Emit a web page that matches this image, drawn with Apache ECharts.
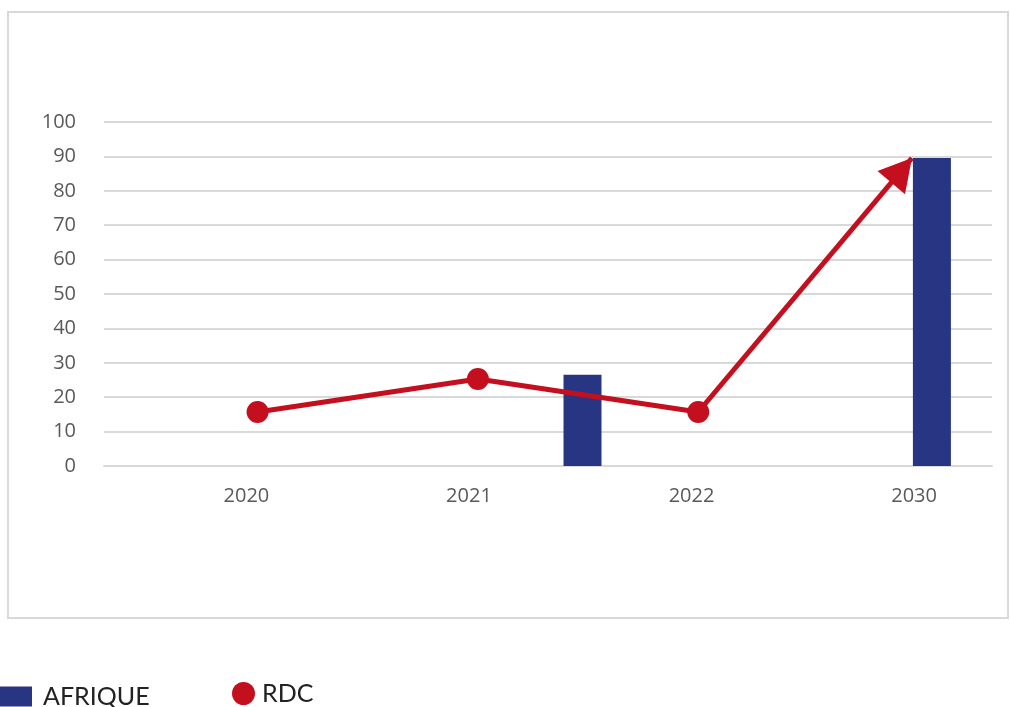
<!DOCTYPE html>
<html><head><meta charset="utf-8">
<script src="https://cdn.jsdelivr.net/npm/echarts@6/dist/echarts.min.js"></script>
<style>html,body{margin:0;padding:0;background:#fff}#c{width:1010px;height:707px}</style>
</head><body><div id="c"></div>
<script>
// Category labels and their positions on the (index-based) x scale
const years = ['2020', '2021', '2022', '2030'];
const yearTicks = [0, 1, 2, 3];
// RDC line and their x positions on the index scale
const rdcX = [0.05, 1.04, 2.03, 2.99];
const rdcValues = [15.7, 25.3, 15.7, 89.5];
// AFRIQUE bars
const afriqueX = [1.51, 3.08];
const afriqueValues = [26.5, 89.5];

const RED = '#c30f1e', BLUE = '#283583', GRID = '#d9d9d9', TXT = '#595959';

const lineData = rdcX.slice(0, 3).map((x, i) => [x, rdcValues[i]]);
const arrowFrom = [rdcX[2], rdcValues[2]];
const arrowTo = [rdcX[3], rdcValues[3]];
const barData = afriqueX.map((x, i) => [x, afriqueValues[i]]);

const chart = echarts.init(document.getElementById('c'), null, {renderer: 'canvas'});
chart.setOption({
  animation: false,
  backgroundColor: '#fff',
  graphic: [{
    type: 'rect', z: -1,
    shape: {x: 8, y: 12, width: 1000, height: 606},
    style: {fill: 'none', stroke: GRID, lineWidth: 2}
  }],
  grid: {left: 104, right: 18, top: 122, bottom: 241},
  legend: [
    {data: ['AFRIQUE'], left: 0, top: 684, padding: 0, itemWidth: 32, itemHeight: 20, icon: 'rect',
     textStyle: {fontFamily: 'Lato', fontSize: 25, color: '#222', padding: [0, 0, 0, 6]}},
    {data: ['RDC'], left: 232, top: 681, padding: 0, itemWidth: 23, itemHeight: 23, icon: 'circle',
     textStyle: {fontFamily: 'Lato', fontSize: 25, color: '#222', padding: [0, 0, 0, 2]}}
  ],
  xAxis: {
    type: 'value', min: -0.64, max: 3.35,
    axisLine: {show: true, lineStyle: {color: GRID, width: 2}},
    axisTick: {show: false},
    splitLine: {show: false},
    axisLabel: {
      customValues: yearTicks,
      formatter: v => years[yearTicks.indexOf(Math.round(v))] || '',
      color: TXT, fontFamily: 'Open Sans', fontSize: 20, margin: 20
    }
  },
  yAxis: {
    type: 'value', min: 0, max: 100, interval: 10,
    axisLine: {show: false}, axisTick: {show: false},
    splitLine: {lineStyle: {color: GRID, width: 2}},
    axisLabel: {color: TXT, fontFamily: 'Open Sans', fontSize: 20, margin: 28}
  },
  series: [
    {
      name: 'AFRIQUE', type: 'bar', data: barData, barWidth: 38,
      itemStyle: {color: BLUE}, z: 2
    },
    {
      name: 'RDC', type: 'line', data: lineData, symbol: 'circle', symbolSize: 22,
      itemStyle: {color: RED}, lineStyle: {color: RED, width: 5}, z: 3,
      markLine: {
        silent: true, symbol: ['none', 'triangle'], symbolSize: [36, 32],
        symbolOffset: [[0, 0], [0, 16]],
        label: {show: false},
        lineStyle: {color: RED, width: 5, type: 'solid'},
        emphasis: {disabled: true},
        data: [[{coord: arrowFrom}, {coord: arrowTo}]]
      }
    }
  ]
});
</script></body></html>
